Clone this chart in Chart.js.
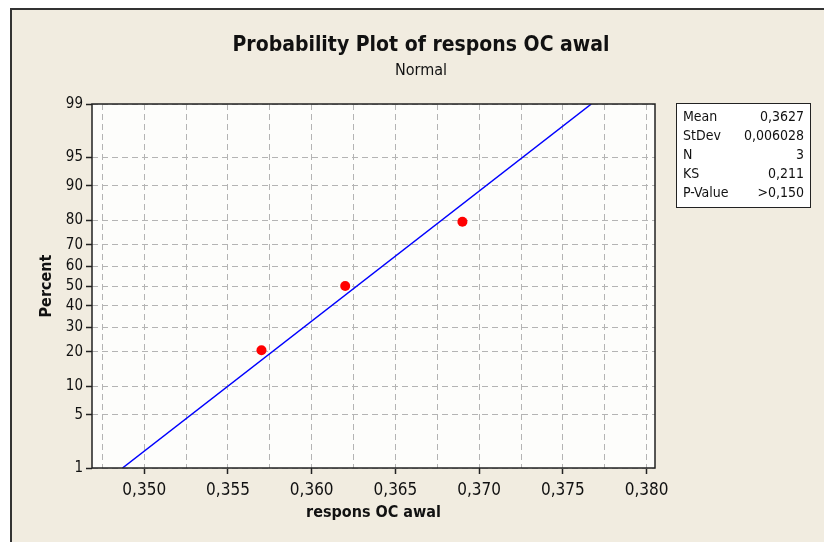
<!DOCTYPE html>
<html>
<head>
<meta charset="utf-8">
<script src="https://cdn.jsdelivr.net/npm/chart.js@4.4.0/dist/chart.umd.min.js"></script>
<style>
  html, body { margin: 0; padding: 0; background: #fff; }
</style>
</head>
<body>
<canvas id="myChart" width="824" height="542"></canvas>
<script>
// data
const dataX = [0.357, 0.362, 0.369];
const dataPct = [20.6, 50, 79.4];
// fitted line, ends at 1% and 99%
const fitX = [0.3487, 0.3767];
const fitPct = [1, 99];

const xTicks = [0.3475, 0.350, 0.3525, 0.355, 0.3575, 0.360, 0.3625, 0.365, 0.3675, 0.370, 0.3725, 0.375, 0.3775, 0.380];
const xLabels = ['', '0,350', '', '0,355', '', '0,360', '', '0,365', '', '0,370', '', '0,375', '', '0,380'];
const yTicks = [1, 5, 10, 20, 30, 40, 50, 60, 70, 80, 90, 95, 99];

const statNames = ['Mean', 'StDev', 'N', 'KS', 'P-Value'];
const statValues = ['0,3627', '0,006028', '3', '0,211', '>0,150'];

const FONT = "'DejaVu Sans Condensed', 'DejaVu Sans', sans-serif";

// normal probability scale: percent -> z
function probit(p) {
  const a = [-3.969683028665376e+01, 2.209460984245205e+02, -2.759285104469687e+02, 1.383577518672690e+02, -3.066479806614716e+01, 2.506628277459239e+00];
  const b = [-5.447609879822406e+01, 1.615858368580409e+02, -1.556989798598866e+02, 6.680131188771972e+01, -1.328068155288572e+01];
  const c = [-7.784894002430293e-03, -3.223964580411365e-01, -2.400758277161838e+00, -2.549732539343734e+00, 4.374664141464968e+00, 2.938163982698783e+00];
  const d = [7.784695709041462e-03, 3.224671290700398e-01, 2.445134137142996e+00, 3.754408661907416e+00];
  const pl = 0.02425;
  let q, r;
  if (p < pl) {
    q = Math.sqrt(-2 * Math.log(p));
    return (((((c[0]*q+c[1])*q+c[2])*q+c[3])*q+c[4])*q+c[5]) / ((((d[0]*q+d[1])*q+d[2])*q+d[3])*q+1);
  }
  if (p > 1 - pl) {
    q = Math.sqrt(-2 * Math.log(1 - p));
    return -(((((c[0]*q+c[1])*q+c[2])*q+c[3])*q+c[4])*q+c[5]) / ((((d[0]*q+d[1])*q+d[2])*q+d[3])*q+1);
  }
  q = p - 0.5; r = q * q;
  return (((((a[0]*r+a[1])*r+a[2])*r+a[3])*r+a[4])*r+a[5])*q / (((((b[0]*r+b[1])*r+b[2])*r+b[3])*r+b[4])*r+1);
}

const toPoints = (xs, ps) => xs.map((x, i) => ({ x: x, y: probit(ps[i] / 100) }));

const decor = {
  id: 'decor',
  beforeDraw(chart) {
    const ctx = chart.ctx;
    const a = chart.chartArea;
    ctx.save();
    ctx.fillStyle = '#ffffff';
    ctx.fillRect(0, 0, 824, 542);
    ctx.fillStyle = '#f1ece0';
    ctx.fillRect(11, 9, 813, 533);
    ctx.strokeStyle = '#333';
    ctx.lineWidth = 2;
    ctx.beginPath();
    ctx.moveTo(11, 542); ctx.lineTo(11, 9); ctx.lineTo(824, 9);
    ctx.stroke();
    ctx.fillStyle = '#fdfdfb';
    ctx.fillRect(a.left, a.top, a.right - a.left, a.bottom - a.top);
    ctx.restore();
  },
  afterDatasetsDraw(chart) {
    const ctx = chart.ctx;
    const a = chart.chartArea;
    ctx.save();
    ctx.strokeStyle = '#222';
    ctx.lineWidth = 1.5;
    ctx.strokeRect(a.left, a.top, a.right - a.left, a.bottom - a.top);
    ctx.restore();
  },
  afterDraw(chart) {
    const ctx = chart.ctx;
    ctx.save();
    ctx.fillStyle = '#111';
    ctx.textAlign = 'center';
    ctx.textBaseline = 'middle';
    ctx.font = 'bold 21px ' + FONT;
    ctx.fillText('Probability Plot of respons OC awal', 421, 46);
    ctx.font = '16px ' + FONT;
    ctx.fillText('Normal', 421, 71);

    // stats box
    ctx.fillStyle = '#ffffff';
    ctx.fillRect(676, 103, 134, 104);
    ctx.strokeStyle = '#222';
    ctx.lineWidth = 1;
    ctx.strokeRect(676.5, 103.5, 134, 104);
    ctx.fillStyle = '#111';
    ctx.font = '14px ' + FONT;
    statNames.forEach((n, i) => {
      const y = 117 + i * 19.2;
      ctx.textAlign = 'left';
      ctx.fillText(n, 683, y);
      ctx.textAlign = 'right';
      ctx.fillText(statValues[i], 804, y);
    });
    ctx.restore();
  }
};

const ctx = document.getElementById('myChart').getContext('2d');
let myChart = new Chart(ctx, {
  type: 'scatter',
  data: {
    datasets: [
      {
        label: 'respons OC awal',
        data: toPoints(dataX, dataPct),
        backgroundColor: '#ff0000',
        borderColor: '#ff0000',
        pointRadius: 5,
        pointBorderWidth: 0
      },
      {
        label: 'fit',
        type: 'line',
        data: toPoints(fitX, fitPct),
        borderColor: '#0000ff',
        borderWidth: 1.5,
        pointRadius: 0,
        fill: false
      }
    ]
  },
  options: {
    responsive: false,
    animation: false,
    layout: { padding: { left: 0, top: 104, right: 169, bottom: 0 } },
    plugins: {
      legend: { display: false },
      tooltip: { enabled: false }
    },
    scales: {
      x: {
        type: 'linear',
        min: 0.34688,
        max: 0.3805,
        afterFit: s => { s.height = 74; },
        afterBuildTicks: s => { s.ticks = xTicks.map(v => ({ value: v })); },
        border: { display: false, dash: [6, 4] },
        grid: {
          color: '#b4b4b4',
          lineWidth: 1,
          tickLength: 6,
          tickColor: c => (xLabels[c.index] ? '#222' : 'rgba(0,0,0,0)'),
          tickWidth: 1.5,
          tickBorderDash: []
        },
        ticks: {
          autoSkip: false,
          maxRotation: 0,
          padding: 6,
          color: '#111',
          font: { family: FONT, size: 17 },
          callback: (v, i) => xLabels[i]
        },
        title: {
          display: true,
          text: 'respons OC awal',
          color: '#111',
          font: { family: FONT, size: 16, weight: 'bold' },
          padding: { top: 0, bottom: 20 }
        }
      },
      y: {
        type: 'linear',
        min: probit(0.01),
        max: probit(0.99),
        afterFit: s => { s.width = 92; },
        afterBuildTicks: s => { s.ticks = yTicks.map(p => ({ value: probit(p / 100) })); },
        border: { display: false, dash: [6, 4] },
        grid: {
          color: '#b4b4b4',
          lineWidth: 1,
          tickLength: 6,
          tickColor: '#222',
          tickWidth: 1.5,
          tickBorderDash: []
        },
        ticks: {
          autoSkip: false,
          padding: 3,
          color: '#111',
          font: { family: FONT, size: 15 },
          callback: (v, i) => String(yTicks[i])
        },
        title: {
          display: true,
          text: 'Percent',
          color: '#111',
          font: { family: FONT, size: 16, weight: 'bold' },
          padding: { top: 37, bottom: 0 }
        }
      }
    }
  },
  plugins: [decor]
});
</script>
</body>
</html>
